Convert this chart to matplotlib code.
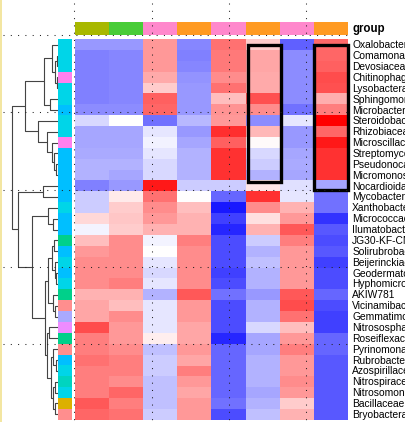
import numpy as np
import matplotlib
matplotlib.use("Agg")
import matplotlib.pyplot as plt
from matplotlib.colors import LinearSegmentedColormap
from matplotlib.patches import Rectangle

plt.rcParams['font.family'] = ['Liberation Sans', 'DejaVu Sans']

families = ["Oxalobacteraceae", "Comamonadaceae", "Devosiaceae", "Chitinophagaceae",
            "Lysobacteraceae", "Sphingomonadaceae", "Microbacteriaceae", "Steroidobacteraceae",
            "Rhizobiaceae", "Microscillaceae", "Streptomycetaceae", "Pseudonocardiaceae",
            "Micromonosporaceae", "Nocardioidaceae", "Mycobacteriaceae", "Xanthobacteraceae",
            "Micrococcaceae", "Ilumatobacteraceae", "JG30-KF-CM45", "Solirubrobacteraceae",
            "Beijerinckiaceae", "Geodermatophilaceae", "Hyphomicrobiaceae", "AKIW781",
            "Vicinamibacteraceae", "Gemmatimonadaceae", "Nitrososphaeraceae", "Roseiflexaceae",
            "Pyrinomonadaceae", "Rubrobacteraceae", "Azospirillaceae", "Nitrospiraceae",
            "Nitrosomonadaceae", "Bacillaceae", "Bryobacteraceae"]

phylum = ["Pro", "Pro", "Pro", "Bac", "Pro", "Pro", "Act", "Pro", "Pro", "Bac",
          "Act", "Act", "Act", "Act", "Act", "Pro", "Act", "Act", "Chl", "Act",
          "Pro", "Act", "Pro", "Chl", "Aci", "Gem", "Tha", "Chl", "Aci", "Act",
          "Pro", "Nit", "Pro", "Fir", "Aci"]

phylum_colors = {"Pro": "#00d5e8", "Act": "#00bfff", "Bac": "#ff80ee", "Chl": "#00d08a",
                 "Aci": "#ff8e8e", "Gem": "#a9a9ff", "Tha": "#ee8cff", "Nit": "#00d4c0",
                 "Fir": "#dcb000"}

group = ["A", "B", "C", "D", "C", "D", "C", "D"]
group_colors = {"A": "#a8b800", "B": "#48cc38", "C": "#ff88cc", "D": "#ff9a22"}

# scaled abundance, one row per family, one value per sample
values = [
    [-0.40, -0.40, 0.40, -0.47, 0.55, 0.20, -0.62, 0.58],
    [-0.50, -0.47, 0.40, -0.50, 0.52, 0.35, -0.45, 0.60],
    [-0.50, -0.47, 0.40, -0.47, 0.52, 0.35, -0.45, 0.62],
    [-0.50, -0.47, 0.33, -0.42, 0.45, 0.33, -0.45, 0.70],
    [-0.50, -0.47, 0.20, -0.40, 0.55, 0.33, -0.45, 0.68],
    [-0.50, -0.47, 0.62, -0.40, 0.25, 0.68, -0.45, 0.32],
    [-0.45, -0.45, 0.60, -0.40, 0.42, 0.45, -0.55, 0.50],
    [-0.15, 0.00, -0.55, -0.28, 0.40, -0.45, -0.10, 1.00],
    [-0.35, -0.35, -0.10, -0.40, 0.82, 0.28, -0.40, 0.60],
    [-0.35, -0.35, -0.05, -0.35, 0.62, 0.02, -0.40, 0.90],
    [-0.33, -0.33, -0.10, -0.30, 0.80, -0.15, -0.35, 0.80],
    [-0.30, -0.30, -0.15, -0.30, 0.80, -0.20, -0.33, 0.80],
    [-0.30, -0.35, -0.15, -0.30, 0.80, -0.30, -0.35, 0.80],
    [-0.50, -0.40, 0.90, -0.20, -0.20, 0.10, -0.12, -0.35],
    [-0.20, 0.08, 0.55, 0.00, -0.60, 0.80, -0.10, -0.55],
    [-0.20, 0.20, 0.45, 0.25, -0.90, 0.45, 0.30, -0.55],
    [0.15, 0.22, 0.40, 0.30, -0.75, 0.12, 0.40, -0.80],
    [-0.04, 0.20, 0.30, 0.30, -0.85, 0.30, 0.65, -0.65],
    [0.25, 0.45, -0.04, 0.50, -0.70, -0.20, 0.50, -0.70],
    [0.40, 0.45, 0.00, 0.45, -0.70, -0.30, 0.40, -0.65],
    [0.45, 0.45, -0.10, 0.45, -0.70, -0.25, 0.40, -0.75],
    [0.45, 0.45, -0.15, 0.45, -0.75, -0.30, 0.40, -0.70],
    [0.45, 0.50, -0.10, 0.45, -0.70, -0.30, 0.40, -0.70],
    [0.30, 0.30, -0.30, 0.65, -0.55, -0.40, 0.65, -0.60],
    [0.35, 0.25, -0.10, 0.40, -0.70, -0.30, 0.70, -0.70],
    [0.35, 0.45, -0.10, 0.40, -0.70, -0.30, 0.55, -0.75],
    [0.70, 0.40, -0.10, 0.35, -0.70, -0.15, 0.25, -0.75],
    [0.50, 0.40, 0.07, 0.35, -0.85, -0.35, 0.40, -0.60],
    [0.50, 0.45, -0.25, 0.40, -0.60, -0.35, 0.50, -0.60],
    [0.55, 0.50, -0.20, 0.35, -0.60, -0.30, 0.40, -0.65],
    [0.50, 0.50, -0.20, 0.50, -0.60, -0.30, 0.40, -0.65],
    [0.50, 0.45, -0.25, 0.40, -0.60, -0.30, 0.45, -0.65],
    [0.50, 0.60, -0.25, 0.35, -0.60, -0.35, 0.40, -0.65],
    [0.65, 0.50, -0.25, 0.40, -0.55, -0.30, 0.20, -0.65],
    [0.60, 0.55, -0.20, 0.40, -0.70, -0.25, 0.30, -0.65],
]

# row tree, scipy style: (child a, child b, height); ids >= 35 are earlier merges
linkage = [
    (1, 2, 1.5), (3, 4, 1.5), (35, 36, 3.5), (0, 37, 6), (5, 6, 8), (38, 39, 14),
    (11, 12, 2), (10, 41, 4), (9, 42, 6), (8, 43, 11), (7, 44, 20), (40, 45, 33),
    (13, 14, 14.7), (16, 17, 5), (15, 48, 10), (18, 19, 4), (21, 22, 2), (20, 51, 3),
    (50, 52, 6), (24, 25, 3), (23, 54, 5), (53, 55, 10), (26, 27, 8.7), (29, 30, 2.5),
    (28, 58, 5), (31, 32, 3), (33, 34, 3), (60, 61, 5), (59, 62, 7), (57, 63, 11.3),
    (56, 64, 13), (49, 65, 26), (47, 66, 40), (46, 67, 46),
]

n = len(families)
W, H = 405, 422
fig = plt.figure(figsize=(W / 100, H / 100), dpi=100)


def box(x0, y0, x1, y1):
    return [x0 / W, 1 - y1 / H, (x1 - x0) / W, (y1 - y0) / H]


top, bot = 39.3, 419.8
cmap = LinearSegmentedColormap.from_list("bwr2", ["#0000ff", "#ffffff", "#ff0000"])

# heatmap
ax = fig.add_axes(box(75, top, 348, bot))
ax.imshow(np.array(values), cmap=cmap, vmin=-1, vmax=1, aspect="auto",
          interpolation="nearest", extent=(0, 8, n, 0))
ax.set_xlim(0, 8)
ax.set_ylim(n, 0)
ax.axis("off")
for i, name in enumerate(families):
    ax.text(8.12, i + 0.55, name, va="center", ha="left", fontsize=7.4, clip_on=False)
ax.add_patch(Rectangle((5.08, 0.52), 0.97, 12.65, fill=False, lw=2.4,
                       edgecolor="black", clip_on=False))
ax.add_patch(Rectangle((6.99, 0.52), 1.0, 13.34, fill=False, lw=2.4,
                       edgecolor="black", clip_on=False))

# column group bar
axg = fig.add_axes(box(75, 22, 348, 35))
axg.bar(np.arange(8), 1, width=1, align="edge", color=[group_colors[g] for g in group])
axg.set_xlim(0, 8)
axg.set_ylim(0, 1)
axg.axis("off")
axg.text(8.12, 0.45, "group", va="center", ha="left", fontsize=8.3,
         fontweight="bold", clip_on=False)

# row annotation bar
axr = fig.add_axes(box(58, top, 72, bot))
axr.barh(np.arange(n), 1, height=1, align="edge", color=[phylum_colors[p] for p in phylum])
axr.set_xlim(0, 1)
axr.set_ylim(n, 0)
axr.axis("off")

# dendrogram
axd = fig.add_axes(box(0, top, 58, bot))
pos = {i: i + 0.5 for i in range(n)}
hgt = {i: 0.0 for i in range(n)}
for k, (a, b, h) in enumerate(linkage):
    nid = n + k
    axd.plot([hgt[a], h, h, hgt[b]], [pos[a], pos[a], pos[b], pos[b]],
             color="#444444", lw=0.8, solid_capstyle="butt")
    pos[nid] = (pos[a] + pos[b]) / 2
    hgt[nid] = h
axd.set_xlim(58, 0)
axd.set_ylim(n, 0)
axd.axis("off")

# dotted guide grid and left edge line
axo = fig.add_axes([0, 0, 1, 1])
axo.set_xlim(0, W)
axo.set_ylim(H, 0)
axo.patch.set_alpha(0)
axo.axis("off")
for gx in [74, 151.5, 228.7, 306]:
    axo.plot([gx, gx], [3, 420], color="#222222", lw=0.75, ls=(0, (1, 6)))
for gy in [35, 112.3, 189.6, 266.9, 344.2]:
    axo.plot([3, 348], [gy, gy], color="#222222", lw=0.75, ls=(0, (1, 6)))
axo.plot([0.8, 0.8], [0, H], color="#f3e6a0", lw=1.4)

fig.savefig("out.png", dpi=100)
